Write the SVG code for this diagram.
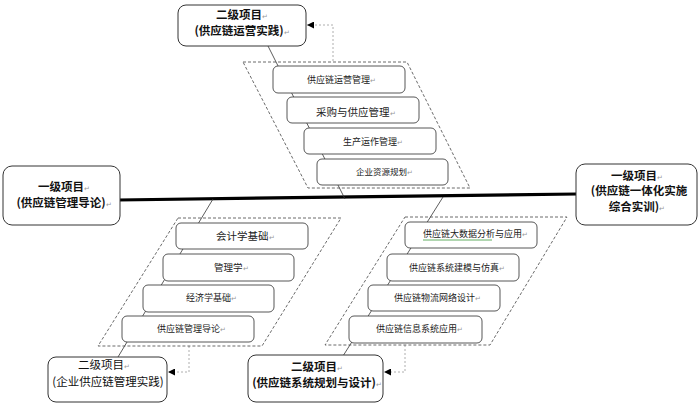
<svg xmlns="http://www.w3.org/2000/svg" width="700" height="405" viewBox="0 0 700 405">
<style>
.box{fill:#fff;stroke:#333;stroke-width:1}
.sub{fill:#fff;stroke:#444;stroke-width:0.9}
.para{fill:none;stroke:#444;stroke-width:0.8;stroke-dasharray:3,2}
.dash{fill:none;stroke:#999;stroke-width:0.8;stroke-dasharray:2,2}
.spine{stroke:#333;stroke-width:0.8;fill:none}
.main{stroke:#000;stroke-width:3.2;fill:none}
.t{font-family:"Noto Sans CJK SC","Noto Sans CJK JP",sans-serif;font-size:9px;fill:#222}
.tb{font-family:"Noto Sans CJK SC","Noto Sans CJK JP",sans-serif;font-size:11.5px;font-weight:bold;fill:#111;text-anchor:middle}
.m{fill:#999;font-size:7px;font-weight:normal}
</style>
<defs>
<marker id="ah" viewBox="0 0 10 10" refX="10" refY="5" markerWidth="7" markerHeight="7" markerUnits="userSpaceOnUse" orient="auto">
<path d="M0,0 L10,5 L0,10 z" fill="#000"/>
</marker>
</defs>
<g id="connectors">
<line class="main" x1="118" y1="200" x2="577" y2="194"/>
<line class="spine" x1="268" y1="46" x2="345" y2="199"/>
<line class="spine" x1="213" y1="199" x2="118" y2="357"/>
<line class="spine" x1="443" y1="197" x2="343" y2="356"/>
<polyline class="dash" points="333,61 333,25 307,25" marker-end="url(#ah)"/>
<polyline class="dash" points="189,346 189,372 168,372" marker-end="url(#ah)"/>
<polyline class="dash" points="405,345 405,372 384,372" marker-end="url(#ah)"/>
</g>
<g id="group-top">
<polygon class="para" points="243,62 407,62 470,188 308,188"/>
</g>
<g id="group-bl">
<polygon class="para" points="178,218 341,218 262,346 98,346"/>
</g>
<g id="group-br">
<polygon class="para" points="405,217 567,217 490,345 325,345"/>
</g>
<g id="n-top">
<rect class="box" x="178" y="5" width="128" height="41" rx="8"/>
<text class="tb" x="242" y="19">二级项目<tspan class="m">↵</tspan></text>
<text class="tb" x="242" y="35">(供应链运营实践)<tspan class="m">↵</tspan></text>
</g>
<g id="n-left">
<rect class="box" x="3" y="166" width="117" height="59" rx="9"/>
<text class="tb" x="64" y="191">一级项目<tspan class="m">↵</tspan></text>
<text class="tb" x="64" y="207">(供应链管理导论)<tspan class="m">↵</tspan></text>
</g>
<g id="n-right">
<rect class="box" x="576" y="164" width="121" height="61" rx="9"/>
<text class="tb" x="637" y="180">一级项目<tspan class="m">↵</tspan></text>
<text class="tb" x="639" y="195">(供应链一体化实施</text>
<text class="tb" x="637" y="211">综合实训)<tspan class="m">↵</tspan></text>
</g>
<g id="n-bl">
<rect class="box" x="48" y="357" width="119" height="45" rx="8"/>
<text class="tb" x="104" y="369" style="font-weight:normal">二级项目<tspan class="m">↵</tspan></text>
<text class="tb" x="108" y="386" style="font-weight:normal">(企业供应链管理实践)</text>
</g>
<g id="n-br">
<rect class="box" x="248" y="355" width="135" height="47" rx="8"/>
<text class="tb" x="317" y="371">二级项目<tspan class="m">↵</tspan></text>
<text class="tb" x="317" y="387">(供应链系统规划与设计)<tspan class="m">↵</tspan></text>
</g>
<g id="s-t1"><rect class="sub" x="273" y="66" width="132" height="27" rx="5"/><text class="t" x="307" y="83">供应链运营管理<tspan class="m">↵</tspan></text></g>
<g id="s-t2"><rect class="sub" x="287" y="97" width="132" height="26" rx="5"/><text class="t" x="316" y="116" style="font-size:10.5px">采购与供应管理<tspan class="m">↵</tspan></text></g>
<g id="s-t3"><rect class="sub" x="304" y="128" width="132" height="26" rx="5"/><text class="t" x="343" y="145">生产运作管理<tspan class="m">↵</tspan></text></g>
<g id="s-t4"><rect class="sub" x="317" y="159" width="131" height="26" rx="5"/><text class="t" x="356" y="175" style="font-size:8.5px">企业资源规划<tspan class="m">↵</tspan></text></g>
<g id="s-b1"><rect class="sub" x="176" y="223" width="132" height="26" rx="5"/><text class="t" x="216" y="240" style="font-size:10.5px">会计学基础<tspan class="m">↵</tspan></text></g>
<g id="s-b2"><rect class="sub" x="163" y="254" width="131" height="27" rx="5"/><text class="t" x="214" y="271" style="font-size:9.5px">管理学<tspan class="m">↵</tspan></text></g>
<g id="s-b3"><rect class="sub" x="143" y="285" width="131" height="27" rx="5"/><text class="t" x="186" y="301">经济学基础<tspan class="m">↵</tspan></text></g>
<g id="s-b4"><rect class="sub" x="122" y="316" width="132" height="26" rx="5"/><text class="t" x="157" y="332">供应链管理导论<tspan class="m">↵</tspan></text></g>
<g id="s-c1"><rect class="sub" x="405" y="222" width="132" height="26" rx="5"/><line x1="423" y1="240" x2="492" y2="240" stroke="#3a9a3a" stroke-width="0.8"/><text class="t" x="423" y="237">供应链大数据分析与应用<tspan class="m">↵</tspan></text></g>
<g id="s-c2"><rect class="sub" x="387" y="254" width="132" height="27" rx="5"/><text class="t" x="409" y="271">供应链系统建模与仿真<tspan class="m">↵</tspan></text></g>
<g id="s-c3"><rect class="sub" x="368" y="285" width="132" height="26" rx="5"/><text class="t" x="394" y="301">供应链物流网络设计<tspan class="m">↵</tspan></text></g>
<g id="s-c4"><rect class="sub" x="349" y="316" width="133" height="27" rx="5"/><text class="t" x="376" y="332">供应链信息系统应用<tspan class="m">↵</tspan></text></g>
</svg>
